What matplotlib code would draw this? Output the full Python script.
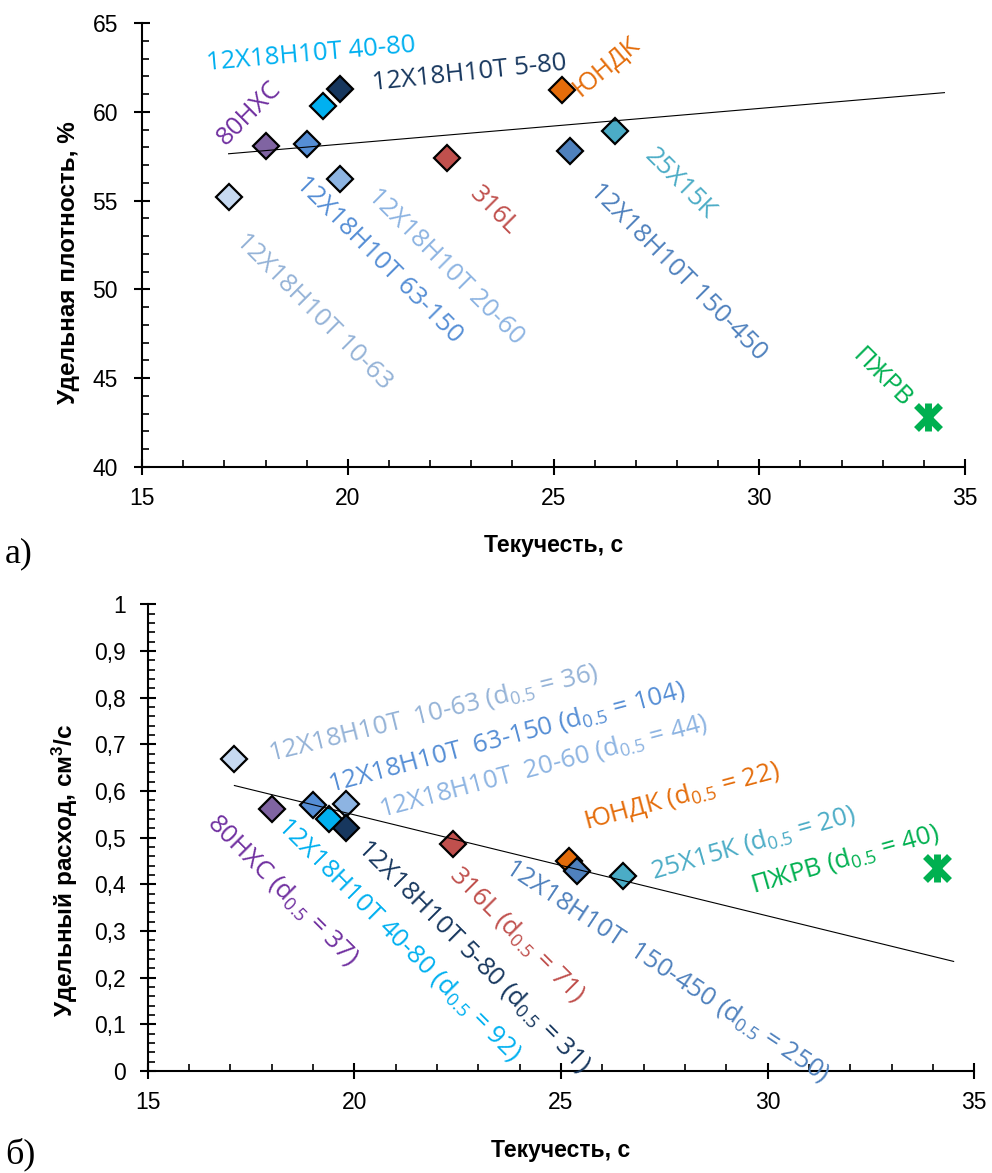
import numpy as np
import matplotlib
matplotlib.use("Agg")
import matplotlib.pyplot as plt
from matplotlib.ticker import MultipleLocator, FuncFormatter

plt.rcParams['mathtext.default'] = 'regular'

# powders, same order in both panels
names = ["12Х18Н10Т 10-63", "80НХС", "12Х18Н10Т 63-150", "12Х18Н10Т 40-80",
         "12Х18Н10Т 5-80", "12Х18Н10Т 20-60", "316L", "ЮНДК",
         "12Х18Н10Т 150-450", "25Х15К", "ПЖРВ"]
# same names with the wider gaps used in panel b
names_b = ["12Х18Н10Т  10-63", "80НХС", "12Х18Н10Т  63-150", "12Х18Н10Т 40-80",
           "12Х18Н10Т 5-80", "12Х18Н10Т  20-60", "316L", "ЮНДК",
           "12Х18Н10Т  150-450", "25Х15К", "ПЖРВ"]
d50 = [36, 37, 104, 92, 31, 44, 71, 22, 250, 20, 40]

flow_time = [17.1, 18.0, 19.0, 19.4, 19.8, 19.8, 22.4, 25.2, 25.4, 26.5, 34.1]   # s
density = [55.2, 58.1, 58.2, 60.3, 61.3, 56.2, 57.4, 61.2, 57.8, 58.9, 42.8]      # %
flow_rate = [0.669, 0.562, 0.571, 0.540, 0.520, 0.572, 0.487, 0.450, 0.428, 0.418, 0.435]  # cm3/s

face_colors = ["#C6D9F1", "#8064A2", "#558ED5", "#00B0F0", "#17375E", "#8DB4E2",
               "#C0504D", "#E46C0A", "#4F81BD", "#4BACC6", "#00B050"]
text_colors = ["#95B3D7", "#7030A0", "#558ED5", "#00B0F0", "#17375E", "#8DB4E2",
               "#C0504D", "#E46C0A", "#4F81BD", "#4BACC6", "#00B050"]

# drawing order of the diamonds (last one on top)
draw_order = [0, 1, 2, 5, 4, 3, 6, 7, 8, 9]
n_fit = 10          # trend line uses the diamonds only
trend_end = 34.5    # forward forecast of the trend line

# label anchors (left end of baseline) and angles
pos_top = [(17.26, 52.69, -45), (17.02, 58.07, 45), (18.72, 55.88, -45),
           (16.57, 62.35, 5), (20.62, 61.23, 6), (20.46, 55.22, -45),
           (22.93, 55.30, -45), (25.64, 60.82, 40), (25.85, 55.50, -45),
           (27.18, 57.47, -45), (32.25, 46.21, -45)]
pos_bot = [(17.96, 0.665, 14), (16.43, 0.531, -45), (19.41, 0.599, 15),
           (18.12, 0.524, -45), (20.06, 0.477, -45), (20.66, 0.545, 15),
           (22.27, 0.420, -45), (25.62, 0.518, 15), (23.62, 0.430, -33.5),
           (27.23, 0.413, 16), (29.65, 0.381, 16)]

label_font = ['Open Sans', 'DejaVu Sans']
axis_font = ['Liberation Sans', 'DejaVu Sans']
serif_font = ['Liberation Serif', 'DejaVu Serif']

fig = plt.figure(figsize=(9.92, 11.73), dpi=100)
W, H = 992, 1173
ax1 = fig.add_axes([142.2 / W, 1 - 467 / H, (965 - 142.2) / W, (467 - 23) / H])
ax2 = fig.add_axes([147.6 / W, 1 - 1071 / H, (974.3 - 147.6) / W, (1071 - 604.4) / H])


def draw_panel(ax, yvals, labels, positions):
    for i in draw_order:
        ax.plot(flow_time[i], yvals[i], marker='D', ms=13.5, mfc=face_colors[i],
                mec='black', mew=1.6, ls='none', zorder=3)
    # ПЖРВ: asterisk made of an x and a bar
    ax.plot(flow_time[10], yvals[10], marker='x', ms=17, mew=5, color=face_colors[10],
            ls='none', zorder=3)
    ax.plot(flow_time[10], yvals[10], marker='|', ms=20, mew=5, color=face_colors[10],
            ls='none', zorder=3)

    k, b = np.polyfit(flow_time[:n_fit], yvals[:n_fit], 1)
    xs = np.array([min(flow_time[:n_fit]), trend_end])
    ax.plot(xs, k * xs + b, color='black', lw=0.8, zorder=4)

    for i, (x, y, rot) in enumerate(positions):
        ax.text(x, y, labels[i], color=text_colors[i], rotation=rot,
                rotation_mode='anchor', ha='left', va='baseline',
                fontsize=18.5, family=label_font, zorder=5)

    for s in ['top', 'right']:
        ax.spines[s].set_visible(False)
    for s in ['left', 'bottom']:
        ax.spines[s].set_linewidth(1.5)
    ax.set_xlim(15, 35)
    ax.xaxis.set_major_locator(MultipleLocator(5))
    ax.xaxis.set_minor_locator(MultipleLocator(1))
    ax.tick_params(which='major', direction='inout', length=11, width=1.5,
                   labelsize=16.5)
    ax.tick_params(which='minor', direction='in', length=5, width=1.2)
    for t in ax.get_xticklabels() + ax.get_yticklabels():
        t.set_family(axis_font)
    ax.set_xlabel('Текучесть, с', fontsize=16.5, fontweight='bold', family=axis_font)


draw_panel(ax1, density, names, pos_top)
ax1.set_ylim(40, 65)
ax1.yaxis.set_major_locator(MultipleLocator(5))
ax1.yaxis.set_minor_locator(MultipleLocator(1))
ax1.tick_params(axis='y', which='major', pad=12)
ax1.tick_params(axis='x', which='major', pad=9)
ax1.set_ylabel('Удельная плотность, %', fontsize=17.5, fontweight='bold', family=axis_font)
ax1.yaxis.set_label_coords(-0.075, 0.46)
ax1.xaxis.set_label_coords(0.5, -0.15)

labels_b = [f"{n} (d$_{{0.5}}$ = {d})" for n, d in zip(names_b, d50)]
draw_panel(ax2, flow_rate, labels_b, pos_bot)
ax2.set_ylim(0, 1)
ax2.yaxis.set_major_locator(MultipleLocator(0.1))
ax2.yaxis.set_minor_locator(MultipleLocator(0.02))
ax2.yaxis.set_major_formatter(FuncFormatter(lambda v, p: ('%g' % round(v, 1)).replace('.', ',')))
ax2.tick_params(axis='y', which='major', pad=10)
ax2.tick_params(axis='x', which='major', pad=9)
ax2.set_ylabel('Удельный расход, см$^3$/с', fontsize=17.5, fontweight='bold', family=axis_font)
ax2.yaxis.set_label_coords(-0.082, 0.43)
ax2.xaxis.set_label_coords(0.5, -0.145)
for t in ax2.get_yticklabels():
    t.set_family(axis_font)

fig.text(5 / W, 1 - 562 / H, 'а)', fontsize=26, family=serif_font, va='baseline')
fig.text(5 / W, 1 - 1163 / H, 'б)', fontsize=26, family=serif_font, va='baseline')

fig.savefig('out.png', dpi=100)
